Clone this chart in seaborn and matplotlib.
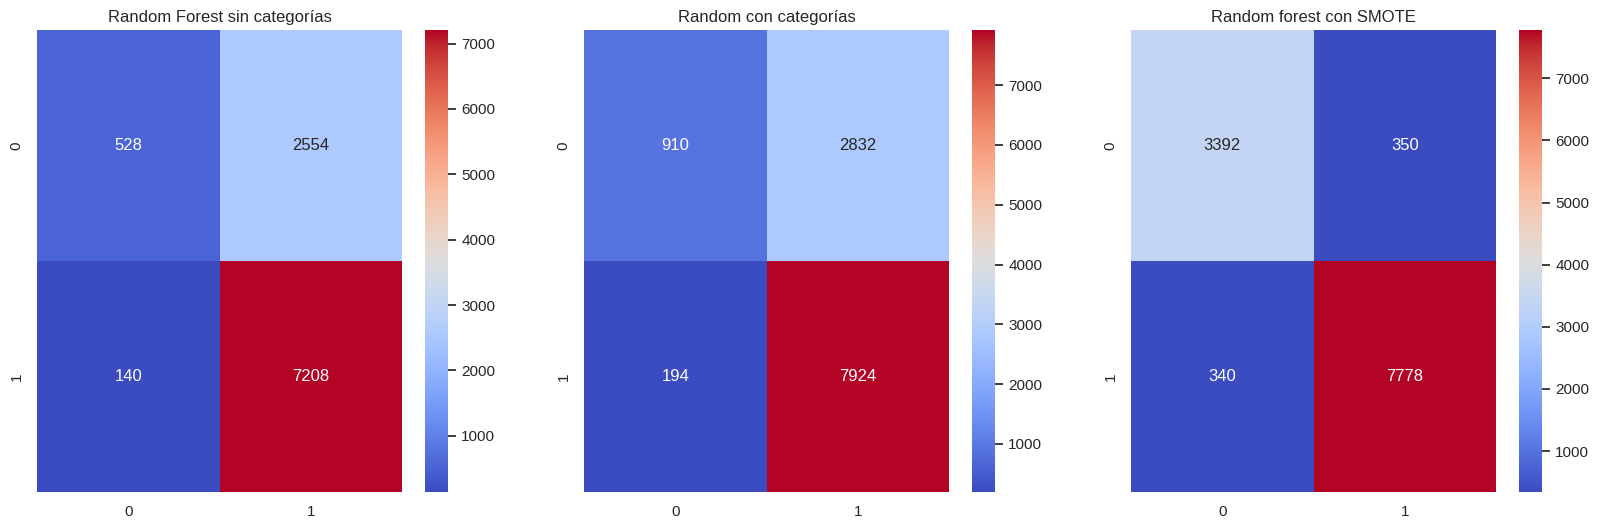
import numpy as np
import seaborn as sns
import matplotlib.pyplot as plt

titles = ['Random Forest sin categorías', 'Random con categorías', 'Random forest con SMOTE']
cm_plain = [[528, 2554], [140, 7208]]
cm_cats = [[910, 2832], [194, 7924]]
cm_smote = [[3392, 350], [340, 7778]]
matrices = [cm_plain, cm_cats, cm_smote]

# left edge of each heatmap and of its colorbar, in pixels
heat_left = [37, 584, 1131]
cbar_left = [425, 972, 1519]
heat_w, cbar_w = 365, 23
top, bottom = 30, 492

W, H = 1599, 529

sns.set_theme(style='white')
plt.rcParams['font.family'] = ['Liberation Sans', 'DejaVu Sans']

fig = plt.figure(figsize=(W / 100, H / 100), dpi=100)

for i, cm in enumerate(matrices):
    ax = fig.add_axes([heat_left[i] / W, 1 - bottom / H, heat_w / W, (bottom - top) / H])
    cax = fig.add_axes([cbar_left[i] / W, 1 - bottom / H, cbar_w / W, (bottom - top) / H])
    sns.heatmap(np.array(cm), annot=True, fmt='d', cmap='coolwarm', ax=ax, cbar_ax=cax)
    ax.set_title(titles[i])

fig.savefig('out.png', dpi=100)
